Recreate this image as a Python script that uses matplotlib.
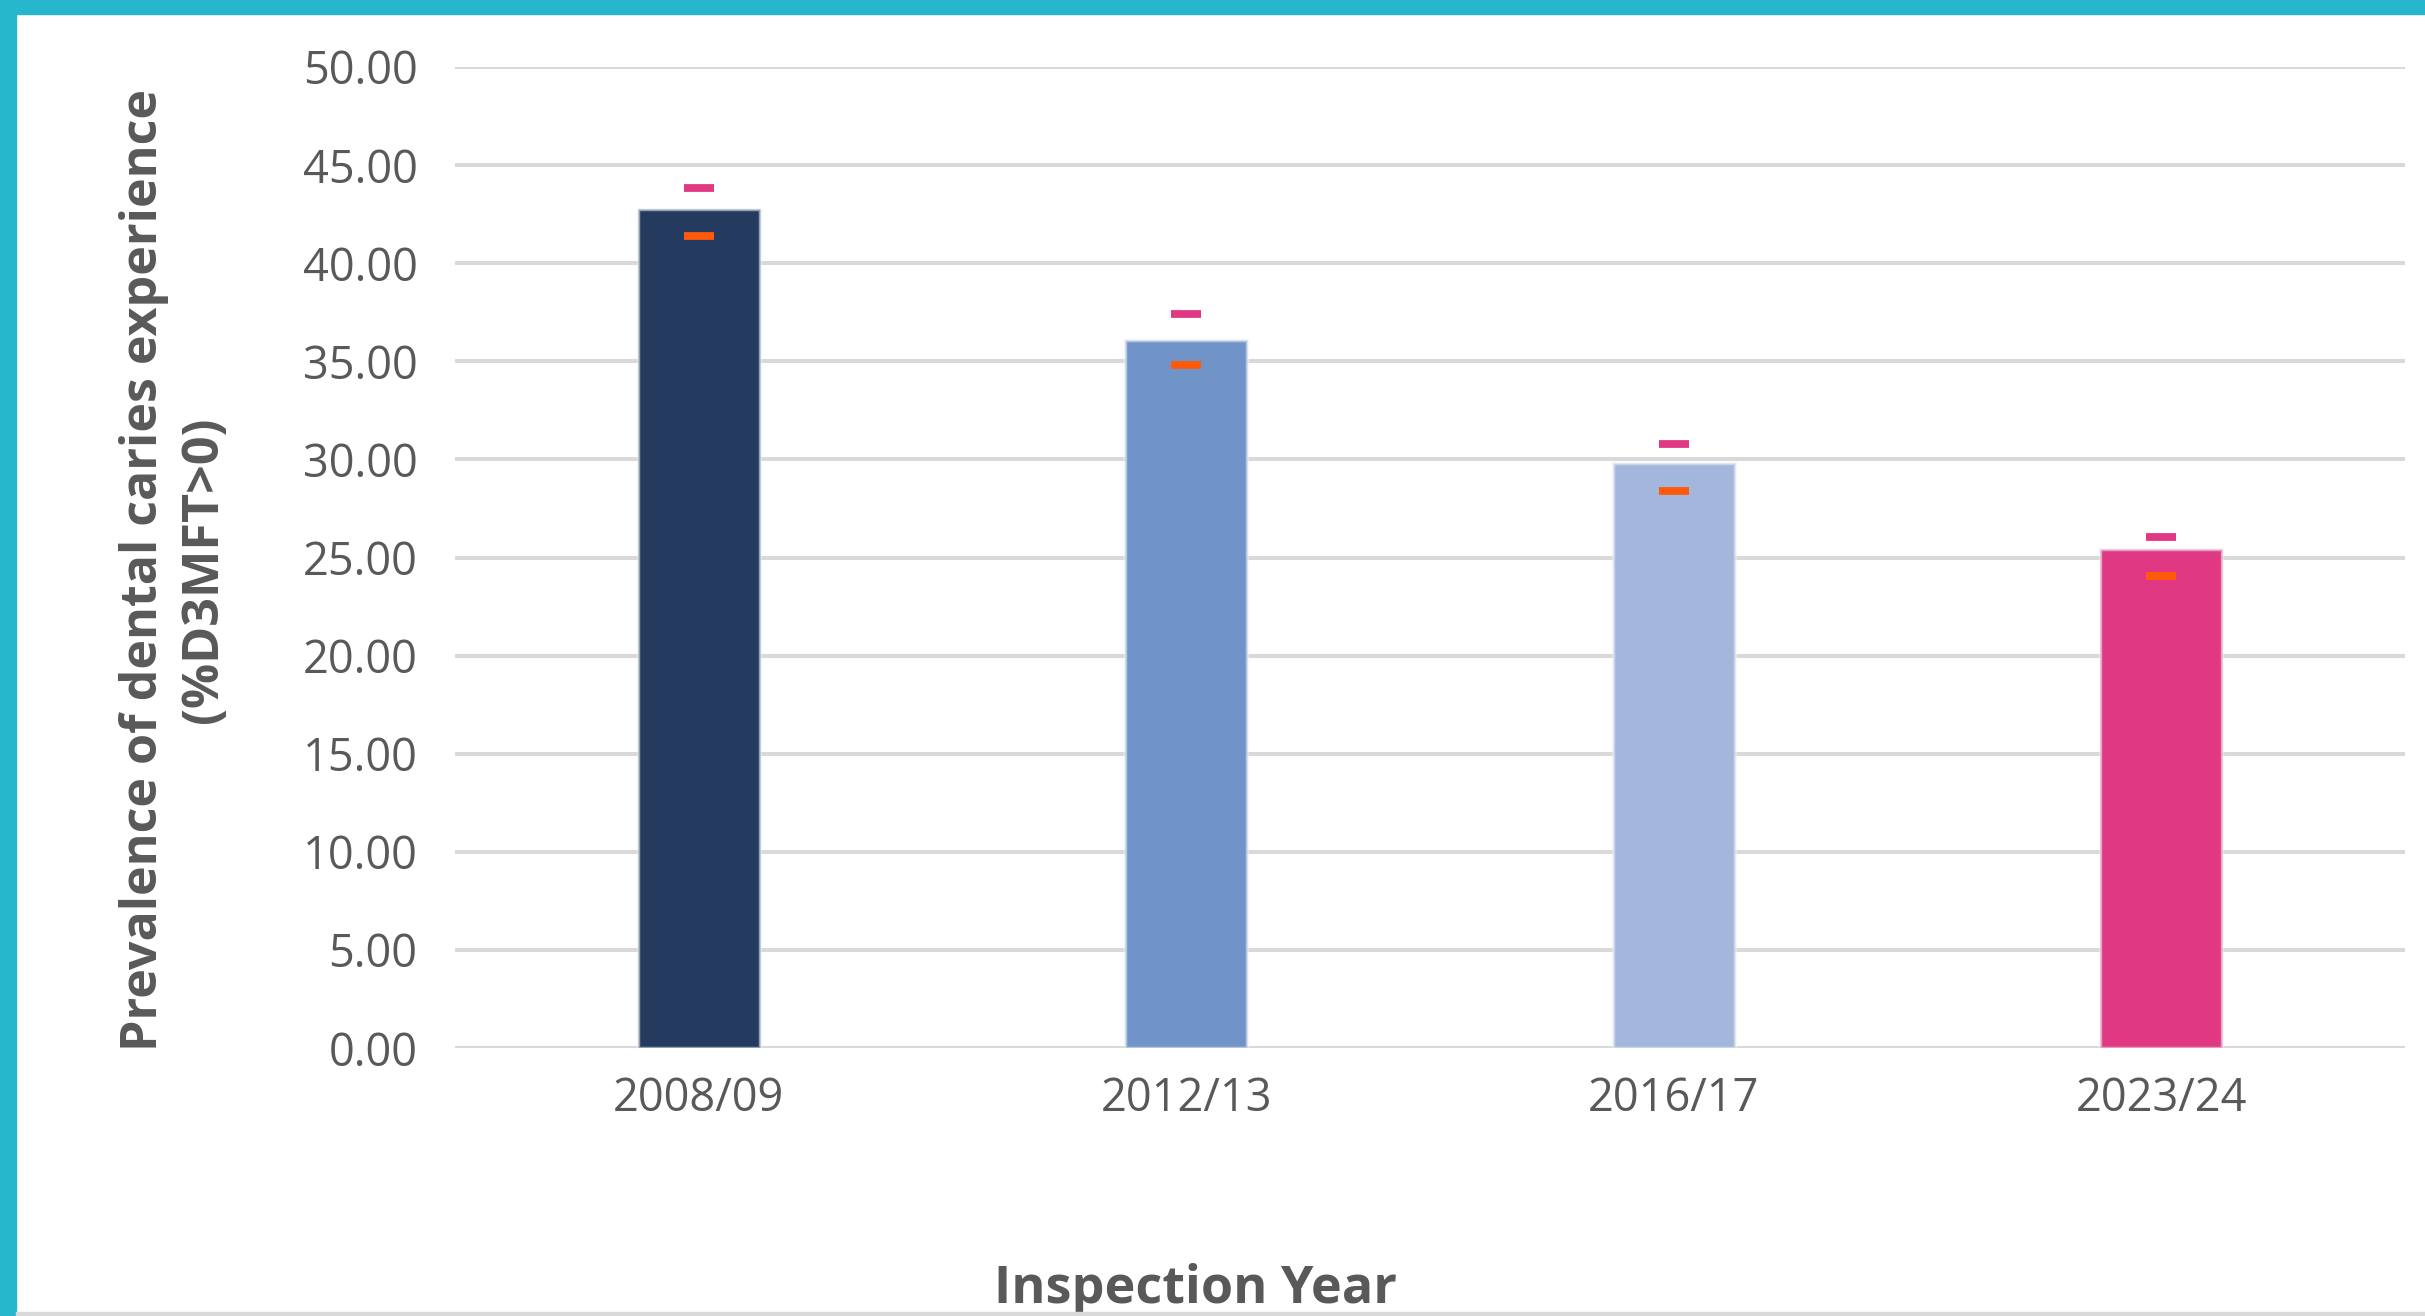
import matplotlib
matplotlib.use("Agg")
import matplotlib.pyplot as plt
from matplotlib.patches import Rectangle

# --- data ---
years = ["2008/09", "2012/13", "2016/17", "2023/24"]
prevalence = [42.75, 36.10, 29.80, 25.45]
upper_ci = [43.85, 37.40, 30.80, 26.05]
lower_ci = [41.40, 34.80, 28.40, 24.05]
bar_colors = ["#243A5E", "#7094C8", "#A3B6DB", "#E03882"]
y_ticks = [0, 5, 10, 15, 20, 25, 30, 35, 40, 45, 50]

plt.rcParams["font.family"] = ["Open Sans", "DejaVu Sans"]
text_grey = "#595959"

fig = plt.figure(figsize=(24.25, 13.16), dpi=100)
ax = fig.add_axes([455 / 2425, 1 - 1048 / 1316, 1950 / 2425, 981 / 1316])

x = range(len(years))
ax.bar(x, prevalence, width=0.25, color=bar_colors,
       edgecolor=(0.93, 0.94, 0.96, 0.55), linewidth=2.5, zorder=3)

# confidence limits as short dashes
ax.plot(x, upper_ci, linestyle="none", marker="_", markersize=22,
        markeredgewidth=5.6, color="#E03882", zorder=4)
ax.plot(x, lower_ci, linestyle="none", marker="_", markersize=22,
        markeredgewidth=5.6, color="#FF5A0A", zorder=4)

ax.set_xlim(-0.5, len(years) - 0.5)
ax.set_ylim(0, 50)
ax.set_yticks(y_ticks)
ax.set_yticklabels([f"{v:.2f}" for v in y_ticks])
ax.set_xticks(list(x))
ax.set_xticklabels(years)
ax.tick_params(axis="both", length=0, labelsize=32.5, colors=text_grey)
ax.tick_params(axis="y", pad=27)
ax.tick_params(axis="x", pad=20)
ax.grid(axis="y", color="#D9D9D9", linewidth=2.9, zorder=0)
for side in ["top", "right", "left", "bottom"]:
    ax.spines[side].set_visible(False)

fig.text(174 / 2425, 1 - 570 / 1316,
         "Prevalence of dental caries experience\n(%D3MFT>0)",
         rotation=90, ha="center", va="center", fontsize=36.2,
         fontweight="bold", color=text_grey, linespacing=1.27)
fig.text(1195 / 2425, 1 - 1289 / 1316, "Inspection Year",
         ha="center", va="center", fontsize=37.5, fontweight="bold",
         color=text_grey)

# frame: cyan strips on left and top, thin grey line at the bottom
cyan = "#27B7CD"
fig.patches.append(Rectangle((0, 0), 16 / 2425, 1, transform=fig.transFigure,
                             color=cyan, zorder=10))
fig.patches.append(Rectangle((0, 1 - 14 / 1316), 1, 14 / 1316,
                             transform=fig.transFigure, color=cyan, zorder=10))
fig.patches.append(Rectangle((16 / 2425, 0), 1, 4 / 1316,
                             transform=fig.transFigure, color="#D9D9D9",
                             zorder=10))

fig.savefig("out.png", dpi=100, facecolor="white")
